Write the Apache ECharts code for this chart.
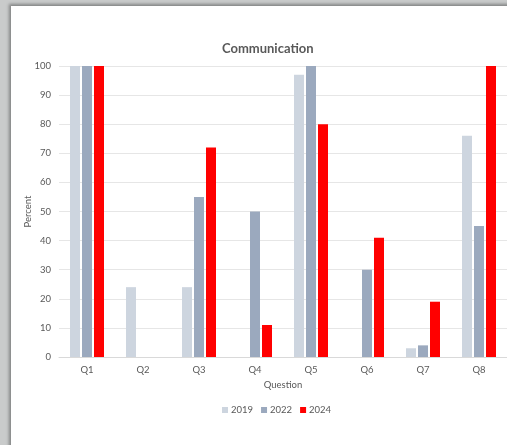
<!DOCTYPE html>
<html>
<head>
<meta charset="utf-8">
<script src="https://cdn.jsdelivr.net/npm/echarts@6/dist/echarts.min.js"></script>
<style>
  html, body { margin: 0; padding: 0; background: #c9cbcb; width: 507px; height: 445px; overflow: hidden; }
  #card { position: absolute; left: 11px; top: 6px; width: 520px; height: 460px; background: #fff;
          box-shadow: -2px -2px 3px rgba(0,0,0,0.35); }
  #main { width: 496px; height: 439px; }
</style>
</head>
<body>
<div id="card"><div id="main"></div></div>
<script>
var questions = ['Q1', 'Q2', 'Q3', 'Q4', 'Q5', 'Q6', 'Q7', 'Q8'];
var years = ['2019', '2022', '2024'];
var y2019 = [100, 24, 24, null, 97, null, 3, 76];
var y2022 = [100, null, 55, 50, 100, 30, 4, 45];
var y2024 = [100, null, 72, 11, 80, 41, 19, 100];
var colors = ['#cdd5df', '#9ba9be', '#ff0000'];

var font = 'Lato';
var txt = '#595959';

var myChart = echarts.init(document.getElementById('main'));
myChart.setOption({
  animation: false,
  color: colors,
  title: {
    text: 'Communication',
    left: 206,
    top: 31,
    textStyle: { color: txt, fontSize: 13, fontWeight: 'bold', fontFamily: font }
  },
  legend: {
    data: years,
    left: 206,
    top: 394,
    itemWidth: 6,
    itemHeight: 6,
    itemGap: 8,
    icon: 'rect',
    textStyle: { color: txt, fontSize: 9.5, fontFamily: font, padding: [0, 0, 0, -2] }
  },
  grid: { left: 48, right: 0, top: 60, bottom: 88, outerBoundsMode: 'none' },
  xAxis: {
    type: 'category',
    data: questions,
    name: 'Question',
    nameLocation: 'middle',
    nameGap: 21,
    nameTextStyle: { color: txt, fontSize: 9.5, fontFamily: font },
    axisLine: { lineStyle: { color: '#d9d9d9' } },
    axisTick: { show: false },
    axisLabel: { color: txt, fontSize: 9.5, fontFamily: font, margin: 8 }
  },
  yAxis: {
    type: 'value',
    min: 0,
    max: 100,
    interval: 10,
    name: 'Percent',
    nameLocation: 'middle',
    nameGap: 26,
    nameMoveOverlap: false,
    nameTextStyle: { color: txt, fontSize: 9.5, fontFamily: font },
    axisLabel: { color: txt, fontSize: 9.5, fontFamily: font, margin: 8 },
    splitLine: { lineStyle: { color: '#e6e6e6' } }
  },
  series: [
    { name: years[0], type: 'bar', data: y2019, barWidth: 10, barGap: '20%' },
    { name: years[1], type: 'bar', data: y2022, barWidth: 10, barGap: '20%' },
    { name: years[2], type: 'bar', data: y2024, barWidth: 10, barGap: '20%' }
  ]
});
</script>
</body>
</html>
